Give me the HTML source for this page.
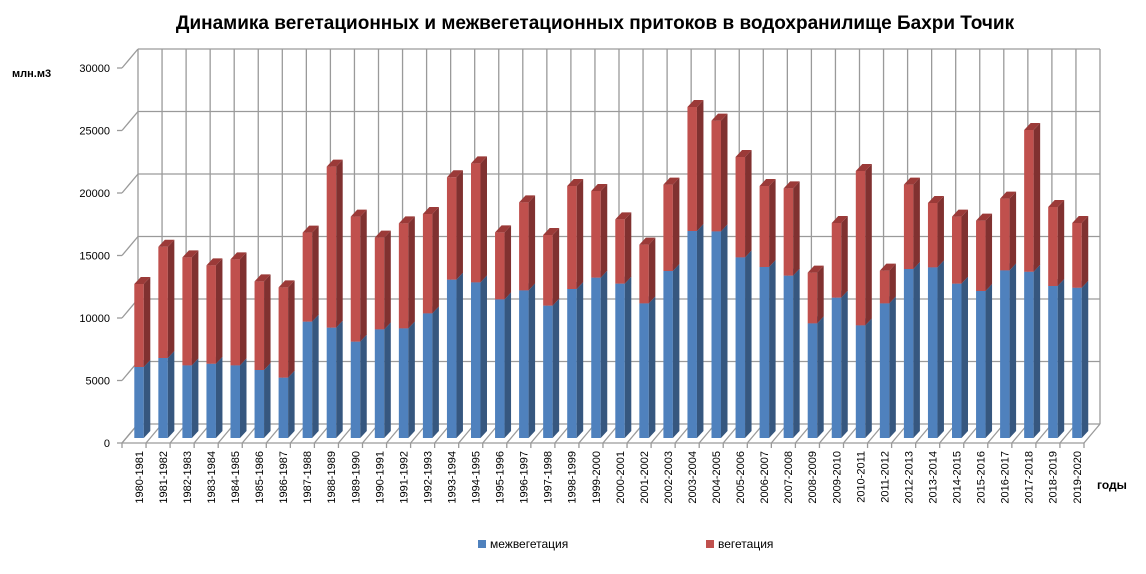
<!DOCTYPE html>
<html><head><meta charset="utf-8"><style>
body{margin:0;background:#fff;}
svg{display:block;font-family:"Liberation Sans",sans-serif;}
</style></head><body>
<svg id="chart" width="1146" height="574" viewBox="0 0 1146 574">
<text x="595" y="29" text-anchor="middle" font-size="19" font-weight="bold" fill="#000">Динамика вегетационных и межвегетационных притоков в водохранилище Бахри Точик</text>
<text x="12" y="77" font-size="11" font-weight="bold">млн.м3</text>
<text x="1097" y="489" font-size="12" font-weight="bold">годы</text>
<g id="grid"></g><g id="bars"></g><g id="labels"></g>
<rect x="478" y="540" width="8" height="8" fill="#4f81bd"/>
<text x="490" y="548" font-size="12">межвегетация</text>
<rect x="706" y="540" width="8" height="8" fill="#c0504d"/>
<text x="718" y="548" font-size="12">вегетация</text>
</svg>
<script>
const categories=[];for(let y=1980;y<2020;y++)categories.push(y+'-'+(y+1));
const mezhveg=[5680,6400,5810,5940,5810,5440,4830,9310,8830,7710,8690,8770,9970,12670,12450,11090,11810,10590,11920,12830,12350,10770,13360,16560,16530,14450,13680,12990,9170,11230,9010,10770,13520,13650,12350,11760,13410,13300,12160,12020];
const totals=[12320,15300,14450,13810,14290,12530,12050,16430,21710,17710,16030,17170,17920,20860,21970,16450,18850,16240,20160,19760,17490,15470,20270,26480,25390,22480,20160,19970,13230,17200,21360,13390,20270,18800,17710,17390,19150,24640,18480,17200];
const veg=totals.map((t,i)=>t-mezhveg[i]);
const yTicks=[0,5000,10000,15000,20000,25000,30000];
const NS='http://www.w3.org/2000/svg';
function mk(tag,attrs,parent){const e=document.createElementNS(NS,tag);for(const k in attrs)e.setAttribute(k,attrs[k]);parent.appendChild(e);return e;}
const yFront=v=>438-v*0.0125, yBack=v=>424-v*0.0125, yAxis=v=>443-v*0.0125;
const xBackL=138,xBackR=1100,xFrontL=122,step=24.05;
const grid=document.getElementById('grid'),bars=document.getElementById('bars'),labels=document.getElementById('labels');
const st={stroke:'#9a9a9a','stroke-width':1.3,fill:'none'};
yTicks.forEach(v=>{
 let l=mk('line',Object.assign({x1:xBackL,y1:yBack(v),x2:xBackR,y2:yBack(v)},st),grid);
 
 let d=mk('line',Object.assign({x1:xFrontL,y1:yAxis(v),x2:xBackL,y2:yBack(v)},st),grid);
 
 let tk=mk('line',Object.assign({x1:xFrontL-5,y1:yAxis(v),x2:xFrontL,y2:yAxis(v)},st),grid);
 
 let t=mk('text',{x:110,y:yAxis(v)+4,'text-anchor':'end','font-size':11,fill:'#000'},grid);t.textContent=v;
 
});
for(let i=0;i<=categories.length;i++){
 const xb=xBackL+i*step,xf=xFrontL+i*step;
 let l=mk('line',Object.assign({x1:xb,y1:yBack(30000),x2:xb,y2:yBack(0)},st),grid);
 
 let f=mk('line',Object.assign({x1:xf,y1:443,x2:xb,y2:yBack(0)},st),grid);
 
 let tk=mk('line',Object.assign({x1:xf,y1:443,x2:xf,y2:448},st),grid);
 
}
let fl=mk('line',Object.assign({x1:xFrontL,y1:443,x2:xFrontL+categories.length*step,y2:443},st),grid);

let al=mk('line',Object.assign({x1:xFrontL,y1:yAxis(0),x2:xFrontL,y2:yAxis(30000)},st),grid);

al.setAttribute('stroke','none');
const W=9.5,dx=6.5,dy=-7;
function box(x,y0,y1,front,side,top,name){
 const g=mk('g',{},bars);
 
 mk('rect',{x:x,y:y1,width:W,height:y0-y1,fill:front},g);
 mk('polygon',{points:`${x+W},${y0} ${x+W+dx},${y0+dy} ${x+W+dx},${y1+dy} ${x+W},${y1}`,fill:side},g);
 mk('polygon',{points:`${x},${y1} ${x+dx},${y1+dy} ${x+W+dx},${y1+dy} ${x+W},${y1}`,fill:top},g);
}
categories.forEach((c,i)=>{
 const x=134.3+i*step;
 box(x,yFront(0),yFront(mezhveg[i]),'#4f81bd','#36577f','#5a8bc6','bar-mezhveg-'+c);
 box(x,yFront(mezhveg[i]),yFront(mezhveg[i]+veg[i]),'#c0504d','#803130','#9b3a38','bar-veg-'+c);
 const t=mk('text',{x:0,y:0,'font-size':11,'text-anchor':'end',transform:`translate(${x+8.5},451) rotate(-90)`},labels);
 t.textContent=c;
});
</script>
</body></html>
